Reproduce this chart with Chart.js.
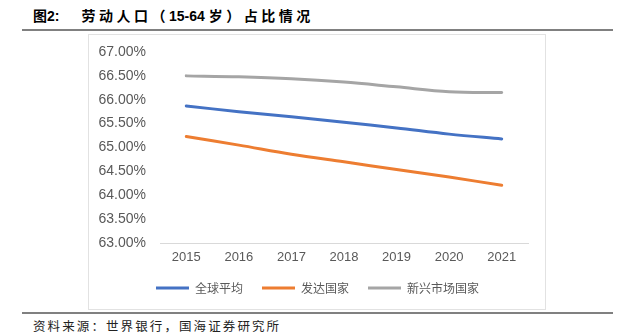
<!DOCTYPE html>
<html>
<head>
<meta charset="utf-8">
<script src="https://cdn.jsdelivr.net/npm/chart.js@4.4.1/dist/chart.umd.min.js"></script>
<style>
  html, body { margin:0; padding:0; background:#fff; }
  body { width:631px; height:334px; position:relative; overflow:hidden; }
  #title { position:absolute; left:33px; top:5px; font-family:"Liberation Sans","Noto Sans CJK SC",sans-serif; font-weight:bold; font-size:14px; color:#000; white-space:nowrap; line-height:20px; }
  #title .cn { font-family:"Noto Sans CJK SC",sans-serif; letter-spacing:3.5px; }
  #title .num { font-family:"Liberation Sans",sans-serif; }
  #title .gap { display:inline-block; width:22px; }
  .rule { position:absolute; left:22px; width:591px; height:2px; background:#808080; }
  #box { position:absolute; left:88px; top:34px; width:458px; height:276px; box-sizing:border-box; border:1px solid #e2e2e2; }
  #wrap { position:absolute; left:89px; top:35px; width:456px; height:273px; }
  #foot { position:absolute; left:33px; top:317px; font-family:"Noto Sans CJK SC",sans-serif; font-size:12.5px; letter-spacing:2.1px; color:#222; white-space:nowrap; line-height:18px; }
</style>
</head>
<body>
<div id="title">图<span class="num">2:</span><span class="gap"></span><span class="cn">劳动人口（</span><span class="num">15-64 </span><span class="cn">岁）占比情况</span></div>
<div class="rule" style="top:29px"></div>
<div id="box"></div>
<div id="wrap"><canvas id="c" width="456" height="273"></canvas></div>
<div class="rule" style="top:312px"></div>
<div id="foot">资料来源：世界银行，国海证券研究所</div>
<script>
const years = ['2015','2016','2017','2018','2019','2020','2021'];
const globalAvg = [65.87, 65.75, 65.645, 65.53, 65.41, 65.28, 65.18];
const developed = [65.23, 65.05, 64.86, 64.70, 64.54, 64.38, 64.21];
const emerging = [66.50, 66.48, 66.44, 66.37, 66.27, 66.17, 66.15];
const seriesNames = ['全球平均', '发达国家', '新兴市场国家'];
const colors = ['#4472C4', '#ED7D31', '#A5A5A5'];

const mk = (label, data, color) => ({
  label, data,
  borderColor: color, backgroundColor: color,
  borderWidth: 3, pointRadius: 0, tension: 0.35,
  borderCapStyle: 'round', fill: false
});

const legendShift = {
  id: 'legendShift',
  beforeDraw(chart) {
    const L = chart.legend;
    L.left += 9; L.right += 9;
    L.top -= 4; L.bottom -= 4;
  }
};

new Chart(document.getElementById('c'), {
  type: 'line',
  data: {
    labels: years,
    datasets: [
      mk(seriesNames[0], globalAvg, colors[0]),
      mk(seriesNames[1], developed, colors[1]),
      mk(seriesNames[2], emerging, colors[2])
    ]
  },
  plugins: [legendShift],
  options: {
    responsive: false,
    animation: false,
    devicePixelRatio: 1,
    layout: { padding: { top: 17, right: 17, left: 0, bottom: 0 } },
    plugins: {
      tooltip: { enabled: false },
      legend: {
        position: 'bottom',
        labels: {
          boxWidth: 33, boxHeight: 3, padding: 19,
          color: '#595959',
          font: { family: '"Noto Sans CJK SC", sans-serif', size: 12 },
          generateLabels(chart) {
            return chart.data.datasets.map((d, i) => ({
              text: d.label, fillStyle: d.borderColor, strokeStyle: d.borderColor,
              lineWidth: 0, hidden: false, datasetIndex: i, fontColor: '#595959'
            }));
          }
        }
      }
    },
    scales: {
      x: {
        offset: true,
        grid: { display: false, drawTicks: false },
        border: { display: true, color: '#d9d9d9', width: 1 },
        ticks: { color: '#595959', padding: 7, font: { family: '"Liberation Sans", Arial, sans-serif', size: 13 } },
        afterFit(s) { s.height = 24; }
      },
      y: {
        min: 63, max: 67,
        grid: { display: false, drawTicks: false },
        border: { display: false },
        ticks: {
          stepSize: 0.5, padding: 14, color: '#595959',
          font: { family: '"Liberation Sans", Arial, sans-serif', size: 14 },
          callback: v => v.toFixed(2) + '%'
        },
        afterFit(s) { s.width = 71; s.paddingTop = 0; s.paddingBottom = 0; }
      }
    }
  }
});
</script>
</body>
</html>
